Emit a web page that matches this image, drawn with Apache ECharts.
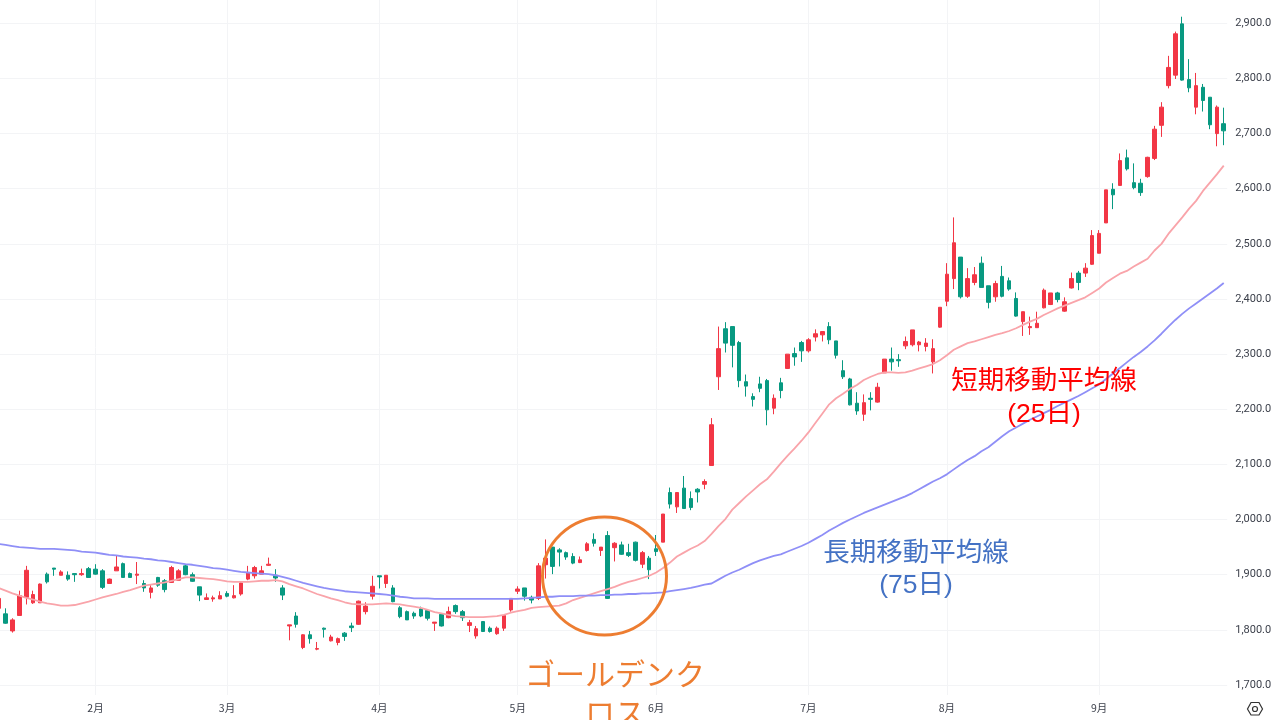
<!DOCTYPE html>
<html>
<head>
    <meta charset="utf-8">
    <title>ゴールデンクロス</title>
    <script src="https://cdn.jsdelivr.net/npm/echarts@6/dist/echarts.min.js"></script>
    <style>
        html, body { margin: 0; padding: 0; background: #fff; }
        #chart { width: 1280px; height: 720px; }
    </style>
</head>
<body>
    <div id="chart"></div>
    <script>
        // 月の先頭バー位置と表示名
        var monthStarts = [14, 33, 55, 75, 95, 117, 137, 159];
        var monthLabels = ['2月', '3月', '4月', '5月', '6月', '7月', '8月', '9月'];
        var priceTicks = [1700, 1800, 1900, 2000, 2100, 2200, 2300, 2400, 2500, 2600, 2700, 2800, 2900];

        var opens = [1839,1829,1798,1826,1859,1849,1849,1901,1912,1899,1899,1902,1900,1911,1910,1907,1884,1907,1920,1902,
            1899,1884,1868,1895,1889,1886,1890,1916,1900,1878,1855,1856,1856,1866,1858,1865,1892,1898,1901,1917,
            1899,1876,1807,1825,1768,1791,1765,1803,1780,1777,1794,1807,1810,1833,1861,1898,1884,1876,1840,1833,
            1830,1838,1835,1812,1828,1822,1844,1833,1808,1789,1815,1803,1793,1803,1836,1870,1876,1859,1857,1918,
            1950,1945,1940,1933,1922,1944,1964,1944,1971,1949,1954,1940,1959,1919,1930,1947,1959,2049,2023,2057,
            2038,2055,2064,2098,2259,2346,2350,2321,2250,2223,2246,2252,2202,2248,2274,2301,2321,2306,2331,2335,
            2350,2324,2270,2255,2211,2191,2220,2213,2266,2291,2290,2315,2317,2317,2314,2286,2349,2396,2437,2476,
            2405,2430,2465,2424,2404,2441,2433,2401,2359,2348,2348,2384,2390,2411,2378,2420,2447,2447,2463,2483,
            2538,2599,2606,2656,2611,2610,2622,2655,2715,2787,2806,2899,2798,2748,2784,2766,2700,2718];
        var closes = [1857,1812,1818,1862,1908,1864,1883,1887,1910,1905,1892,1900,1902,1895,1901,1877,1892,1914,1895,1895,
            1901,1876,1876,1881,1873,1913,1907,1900,1888,1863,1858,1858,1862,1861,1862,1885,1904,1913,1907,1919,
            1894,1863,1809,1810,1791,1784,1766,1801,1787,1784,1788,1804,1852,1843,1879,1896,1899,1851,1824,1818,
            1825,1825,1821,1814,1807,1833,1833,1822,1813,1802,1797,1797,1803,1826,1857,1874,1861,1854,1916,1930,
            1915,1941,1932,1921,1927,1956,1957,1950,1857,1957,1937,1935,1926,1940,1909,1942,2010,2028,2049,2020,
            2022,2050,2069,2172,2310,2320,2316,2252,2242,2218,2238,2199,2220,2234,2300,2295,2306,2326,2337,2341,
            2326,2298,2259,2208,2197,2212,2218,2240,2291,2286,2288,2323,2344,2322,2320,2310,2385,2445,2502,2404,
            2437,2444,2421,2394,2428,2405,2418,2369,2377,2350,2356,2416,2411,2399,2395,2437,2430,2456,2515,2519,
            2598,2589,2651,2636,2602,2593,2657,2708,2748,2820,2881,2797,2783,2787,2760,2716,2748,2705];
        var lows = [1839,1811,1795,1826,1846,1847,1849,1884,1898,1899,1889,1887,1898,1895,1900,1874,1884,1907,1895,1895,
            1883,1869,1857,1878,1868,1885,1890,1899,1887,1852,1855,1851,1856,1859,1857,1862,1890,1893,1901,1916,
            1887,1854,1781,1804,1765,1775,1763,1786,1779,1772,1780,1796,1809,1828,1855,1875,1876,1850,1821,1818,
            1820,1823,1817,1798,1806,1821,1829,1816,1796,1784,1796,1795,1791,1798,1833,1865,1853,1848,1854,1893,
            1901,1915,1927,1919,1921,1942,1951,1934,1856,1924,1936,1932,1924,1912,1892,1934,1959,2020,2012,2020,
            2017,2031,2055,2098,2235,2303,2276,2240,2223,2205,2231,2171,2191,2220,2273,2279,2286,2303,2323,2323,
            2318,2292,2255,2207,2190,2179,2198,2212,2266,2270,2277,2309,2314,2305,2305,2265,2348,2387,2418,2401,
            2402,2425,2421,2383,2395,2403,2415,2368,2333,2335,2348,2383,2389,2394,2377,2419,2416,2440,2462,2483,
            2538,2563,2605,2633,2599,2587,2620,2652,2694,2782,2799,2796,2775,2735,2740,2708,2677,2679];
        var highs = [1857,1839,1821,1871,1916,1871,1884,1904,1912,1908,1906,1902,1911,1914,1919,1910,1893,1935,1922,1904,
            1923,1890,1881,1896,1892,1916,1910,1919,1904,1878,1866,1862,1870,1870,1881,1886,1916,1916,1916,1931,
            1910,1881,1809,1832,1792,1798,1778,1804,1791,1786,1796,1813,1853,1850,1898,1898,1899,1881,1843,1835,
            1833,1842,1836,1814,1828,1842,1846,1836,1818,1807,1816,1806,1806,1827,1857,1879,1876,1862,1921,1964,
            1950,1948,1942,1939,1933,1959,1975,1950,1979,1959,1960,1956,1960,1943,1934,1972,2010,2058,2049,2079,
            2051,2057,2073,2184,2350,2358,2350,2324,2263,2229,2259,2255,2227,2257,2300,2312,2324,2329,2345,2341,
            2358,2324,2289,2257,2231,2227,2231,2248,2291,2312,2300,2332,2344,2324,2329,2327,2385,2465,2548,2476,
            2456,2458,2477,2424,2433,2460,2439,2412,2377,2368,2377,2419,2411,2413,2403,2448,2451,2465,2525,2525,
            2598,2610,2664,2671,2646,2618,2658,2714,2757,2841,2885,2912,2835,2810,2790,2766,2751,2747];

        var ma25 = [1876,1871,1866,1862,1858,1855,1851,1848,1846,1844,1844,1845,1848,1851,1855,1859,1862,1865,1869,1872,
            1876,1880,1882,1884,1886,1889,1892,1895,1895,1894,1893,1892,1890,1888,1887,1887,1887,1888,1889,1889,
            1890,1888,1883,1879,1875,1870,1865,1861,1857,1854,1850,1847,1846,1846,1846,1847,1848,1847,1846,1844,
            1842,1840,1836,1832,1830,1827,1825,1824,1823,1823,1823,1824,1825,1827,1831,1834,1836,1840,1841,1842,
            1843,1844,1848,1854,1858,1862,1866,1870,1874,1878,1883,1887,1890,1894,1898,1904,1912,1922,1933,1940,
            1947,1953,1961,1974,1988,2001,2018,2030,2042,2053,2064,2073,2087,2102,2116,2129,2143,2158,2175,2192,
            2209,2220,2228,2237,2244,2253,2259,2264,2267,2267,2266,2267,2270,2274,2278,2282,2289,2298,2308,2314,
            2320,2323,2327,2331,2335,2338,2342,2347,2353,2359,2364,2371,2377,2383,2388,2393,2398,2403,2411,2419,
            2430,2438,2446,2451,2459,2466,2473,2488,2500,2518,2533,2548,2564,2578,2596,2611,2626,2642];
        var ma75 = [1956,1954,1952,1950,1949,1948,1947,1947,1947,1946,1945,1944,1942,1941,1940,1938,1936,1935,1933,1932,
            1931,1929,1928,1926,1925,1923,1921,1919,1918,1916,1914,1912,1911,1909,1907,1905,1904,1903,1902,1901,
            1899,1896,1893,1889,1885,1882,1879,1876,1874,1872,1870,1869,1868,1867,1866,1865,1864,1862,1860,1859,
            1857,1857,1857,1856,1856,1856,1856,1856,1856,1856,1856,1856,1856,1856,1856,1856,1857,1858,1859,1860,
            1860,1861,1861,1861,1862,1862,1862,1863,1863,1864,1864,1865,1865,1866,1866,1867,1868,1870,1872,1874,
            1876,1879,1882,1884,1891,1898,1904,1909,1915,1921,1926,1930,1934,1937,1942,1947,1952,1958,1965,1972,
            1980,1987,1994,2000,2006,2012,2017,2022,2027,2032,2037,2042,2048,2055,2062,2069,2075,2082,2091,2100,
            2108,2115,2124,2131,2141,2151,2160,2167,2174,2181,2187,2193,2199,2206,2212,2218,2224,2231,2238,2245,
            2255,2265,2275,2285,2295,2304,2314,2325,2337,2350,2362,2373,2383,2392,2401,2410,2419,2429];

        var categories = [];
        var candles = [];
        for (var i = 0; i < opens.length; i++) {
            categories.push(String(i));
            candles.push([opens[i], closes[i], lows[i], highs[i]]);
        }

        function isMonthStart(index) {
            return monthStarts.indexOf(index) >= 0;
        }

        var chart = echarts.init(document.getElementById('chart'));
        var jpFont = '"Liberation Sans", "Noto Sans CJK JP", sans-serif';

        chart.setOption({
            animation: false,
            backgroundColor: '#ffffff',
            grid: { left: -4.86, top: 0, width: 1232.06, height: 695, containLabel: false, outerBoundsMode: 'none' },
            xAxis: {
                type: 'category',
                data: categories,
                axisLine: { show: false },
                axisTick: { show: false },
                axisLabel: {
                    interval: function (index) { return isMonthStart(index); },
                    formatter: function (value, index) { return monthLabels[monthStarts.indexOf(index)]; },
                    color: '#3c404b',
                    fontSize: 10.5,
                    fontFamily: '"Noto Sans CJK JP", sans-serif',
                    margin: 8
                },
                splitLine: {
                    show: true,
                    alignWithLabel: true,
                    interval: function (index) { return isMonthStart(index); },
                    lineStyle: { color: '#f3f4f6', width: 1 }
                }
            },
            yAxis: {
                type: 'value',
                position: 'right',
                min: 1681.8,
                max: 2942.3,
                axisLine: { show: false },
                axisTick: { show: false, customValues: priceTicks },
                axisLabel: {
                    customValues: priceTicks,
                    formatter: function (value) { return value.toLocaleString('en-US') + '.0'; },
                    color: '#3c404b',
                    fontSize: 11,
                    fontFamily: 'Roboto, sans-serif',
                    margin: 8
                },
                splitLine: { show: true, lineStyle: { color: '#f3f4f6', width: 1 } }
            },
            series: [
                {
                    name: '短期移動平均線',
                    type: 'line',
                    data: ma25,
                    showSymbol: false,
                    silent: true,
                    lineStyle: { color: '#f9a4aa', width: 1.8 }
                },
                {
                    name: '長期移動平均線',
                    type: 'line',
                    data: ma75,
                    showSymbol: false,
                    silent: true,
                    lineStyle: { color: '#8f8ff7', width: 1.8 }
                },
                {
                    type: 'candlestick',
                    data: candles,
                    barWidth: 4,
                    itemStyle: {
                        color: '#f23645',
                        color0: '#089981',
                        borderColor: '#f23645',
                        borderColor0: '#089981',
                        borderWidth: 1
                    }
                }
            ],
            graphic: [
                { type: 'ellipse', shape: { cx: 604.5, cy: 576, rx: 62, ry: 59 }, style: { fill: null, stroke: '#ed7d31', lineWidth: 3 }, z: 100 },
                { type: 'text', x: 615, y: 677, z: 100, style: { text: 'ゴールデンク', fill: '#ed7d31', font: '30px ' + jpFont, textAlign: 'center', textVerticalAlign: 'middle' } },
                { type: 'text', x: 615, y: 716, z: 100, style: { text: 'ロス', fill: '#ed7d31', font: '30px ' + jpFont, textAlign: 'center', textVerticalAlign: 'middle' } },
                { type: 'text', x: 1044, y: 382, z: 100, style: { text: '短期移動平均線', fill: '#ff0000', font: '26.5px ' + jpFont, textAlign: 'center', textVerticalAlign: 'middle' } },
                { type: 'text', x: 1044, y: 415, z: 100, style: { text: '(25日)', fill: '#ff0000', font: '26.5px ' + jpFont, textAlign: 'center', textVerticalAlign: 'middle' } },
                { type: 'text', x: 916, y: 554, z: 100, style: { text: '長期移動平均線', fill: '#4472c4', font: '26.5px ' + jpFont, textAlign: 'center', textVerticalAlign: 'middle' } },
                { type: 'text', x: 916, y: 586, z: 100, style: { text: '(75日)', fill: '#4472c4', font: '26.5px ' + jpFont, textAlign: 'center', textVerticalAlign: 'middle' } },
                // 右下の設定アイコン
                { type: 'polygon', shape: { points: [[1251, 702.5], [1259, 702.5], [1262.5, 709], [1259, 715], [1251, 715], [1247.5, 709]] }, style: { fill: null, stroke: '#333333', lineWidth: 1.2 } },
                { type: 'circle', shape: { cx: 1255, cy: 709, r: 2.5 }, style: { fill: null, stroke: '#333333', lineWidth: 1.2 } }
            ]
        });
    </script>
</body>
</html>
